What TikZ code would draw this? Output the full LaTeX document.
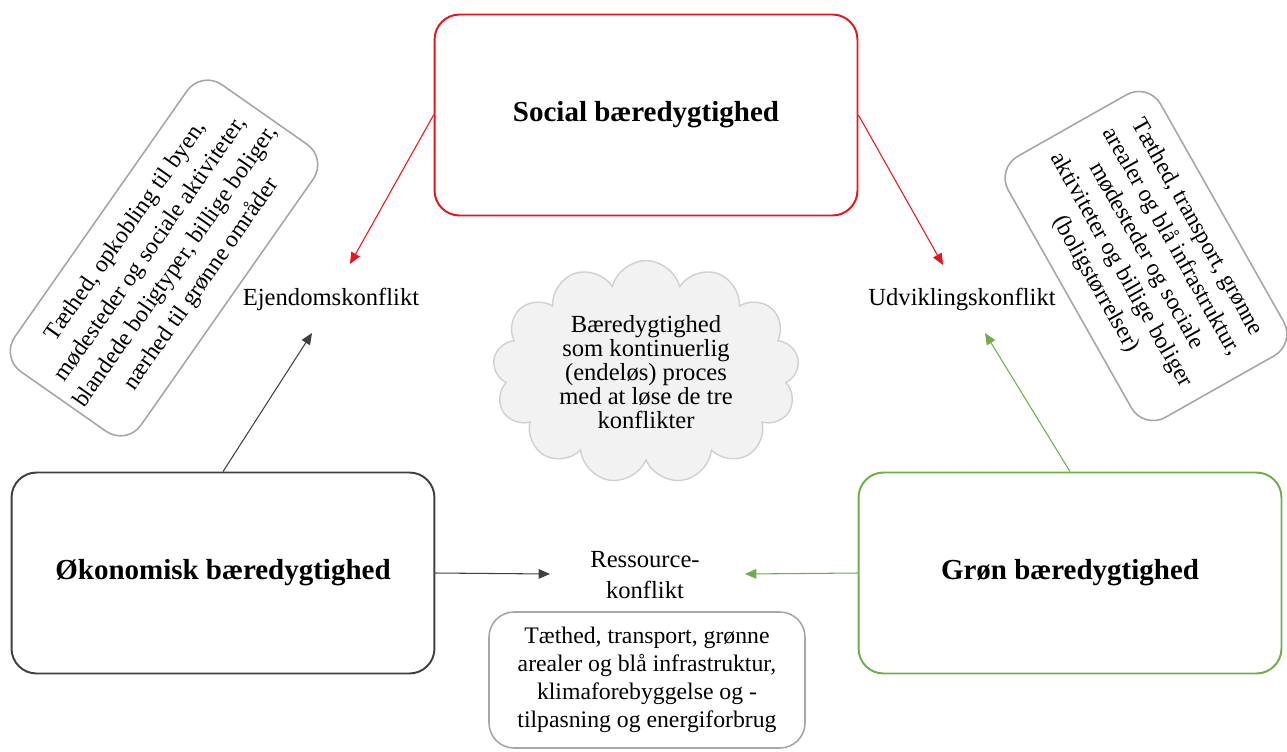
\documentclass[tikz,border=0pt]{standalone}
\usepackage{fontspec}
\setmainfont{Liberation Serif}
\usepackage{tikz}
\usetikzlibrary{arrows.meta,positioning,shapes.symbols}
\definecolor{SocRed}{HTML}{E8141C}
\definecolor{OkoGray}{HTML}{404040}
\definecolor{GronGreen}{HTML}{70AD47}
\definecolor{NoteGray}{HTML}{A6A6A6}
\definecolor{CloudFill}{HTML}{F2F2F2}
\definecolor{CloudLine}{HTML}{D0D0D0}

\begin{document}
\begin{tikzpicture}[x=0.02cm,y=-0.02cm,>={Triangle[length=6.5pt,width=5.5pt]}]
\tikzstyle{pillar}=[rectangle,rounded corners=0.5cm,line width=1.1pt,minimum width=8.46cm,minimum height=4.02cm,font=\fontsize{16.5}{19}\selectfont\bfseries]
\tikzstyle{note}=[rectangle,rounded corners=0.5cm,draw=NoteGray,line width=0.9pt,align=center,font=\fontsize{13.5}{17.5}\selectfont]
\tikzstyle{conflict}=[align=center,font=\fontsize{14}{17.5}\selectfont]
\tikzstyle{link}=[->,line width=0.6pt]
\useasboundingbox (0,0) rectangle (1287,751);
% the three pillars
\node[pillar,draw=SocRed] (soc) at (646,115) {Social bæredygtighed};
\node[pillar,draw=OkoGray] (oko) at (223,573) {Økonomisk bæredygtighed};
\node[pillar,draw=GronGreen] (gron) at (1070,573) {Grøn bæredygtighed};
% conflicts
\node[conflict] (ejd) at (331,299) {Ejendomskonflikt};
\node[conflict] (udv) at (962,299) {Udviklingskonflikt};
\node[conflict] (res) at (645,575) {Ressource-\\konflikt};
\coordinate (ejdtip) at (350,264);
\coordinate (udvtip) at (943,265);
\coordinate (ejdtip2) at (312,333);
\coordinate (udvtip2) at (985,333);
\coordinate (restipL) at (550,574);
\coordinate (restipR) at (745,574);
% notes
\node[note,rotate=55,minimum width=6.68cm,minimum height=3.08cm] (ejdnote) at (164,258)
  {Tæthed, opkobling til byen,\\mødesteder og sociale aktiviteter,\\blandede boligtyper, billige boliger,\\nærhed til grønne områder};
\node[note,rotate=-60.5,minimum width=6.0cm,minimum height=3.5cm,font=\fontsize{13.5}{16.5}\selectfont] (udvnote) at (1146,256)
  {Tæthed, transport, grønne\\arealer og blå infrastruktur,\\mødesteder og sociale\\aktiviteter og billige boliger\\(boligstørrelser)};
\node[note,minimum width=6.32cm,minimum height=2.72cm,font=\fontsize{13.5}{16}\selectfont] (resnote) at (647,680)
  {Tæthed, transport, grønne\\arealer og blå infrastruktur,\\klimaforebyggelse og -\\tilpasning og energiforbrug};
% cloud
\node[cloud,cloud puffs=13,aspect=1.6,draw=CloudLine,fill=CloudFill,line width=0.8pt,align=center,
  minimum width=5.9cm,minimum height=4.4cm,font=\fontsize{14}{13.6}\selectfont] (sky) at (646,372)
  {Bæredygtighed\\som kontinuerlig\\(endeløs) proces\\med at løse de tre\\konflikter};
% arrows
\draw[link,SocRed] (soc.west) -- (ejdtip);
\draw[link,SocRed] (soc.east) -- (udvtip);
\draw[link,OkoGray] (oko.north) -- (ejdtip2);
\draw[link,GronGreen] (gron.north) -- (udvtip2);
\draw[link,OkoGray] (oko.east) -- (restipL);
\draw[link,GronGreen] (gron.west) -- (restipR);
\end{tikzpicture}
\end{document}
